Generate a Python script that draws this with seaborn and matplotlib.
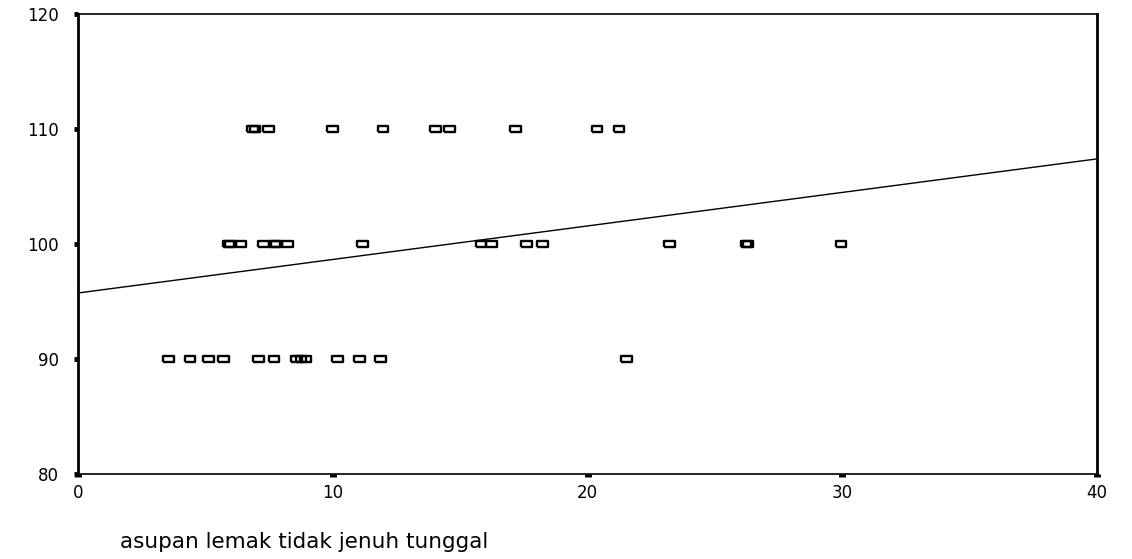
import matplotlib
matplotlib.use("Agg")
import matplotlib.pyplot as plt
import numpy as np
import pandas as pd
import seaborn as sns

# Observations grouped by outcome level
x_at_110 = [6.85, 6.95, 7.47, 10.0, 11.97, 14.03, 14.58, 17.18, 20.37, 21.24]
x_at_100 = [5.9, 6.0, 6.4, 7.27, 7.7, 7.8, 8.23, 11.16, 15.82, 16.24,
            17.61, 18.23, 23.21, 26.22, 26.3, 29.95]
x_at_90 = [3.56, 4.40, 5.13, 5.72, 7.09, 7.69, 8.58, 8.75, 8.94, 10.19,
           11.04, 11.87, 21.54]

# Fitted linear trend (end points over the x range)
fit_x = [0, 40]
fit_y = [95.74, 107.4]

x_ticks = [0, 10, 20, 30, 40]
y_ticks = [80, 90, 100, 110, 120]
x_label = "asupan lemak tidak jenuh tunggal"

df = pd.DataFrame({
    "x": x_at_110 + x_at_100 + x_at_90,
    "y": [110] * len(x_at_110) + [100] * len(x_at_100) + [90] * len(x_at_90),
})
fit = pd.DataFrame({"x": fit_x, "y": fit_y})

sns.set_theme(style="white")
plt.rcParams["font.family"] = ["DejaVu Sans"]

fig = plt.figure(figsize=(11.32, 5.59), dpi=100)
ax = fig.add_axes([78 / 1132, 1 - 474 / 559, (1097 - 78) / 1132, (474 - 14) / 559])

# open rectangular marker, wider than tall
rect = [(-1, -0.58), (1, -0.58), (1, 0.58), (-1, 0.58), (-1, -0.58)]
sns.scatterplot(data=df, x="x", y="y", ax=ax, marker=rect, s=60,
                facecolors="none", edgecolor="black", linewidth=1.7)
sns.lineplot(data=fit, x="x", y="y", ax=ax, color="black", linewidth=1.0)

ax.set_xlim(0, 40)
ax.set_ylim(80, 120)
ax.set_xticks(x_ticks)
ax.set_yticks(y_ticks)
ax.set_ylabel("")
ax.set_xlabel(x_label, fontsize=15.5, ha="left", va="baseline", color="black")
ax.xaxis.set_label_coords((120 - 78) / (1097 - 78), (474 - 548) / 460)

ax.tick_params(axis="y", direction="out", length=3, width=3.5, pad=11,
               labelsize=12, colors="black", left=True)
ax.tick_params(axis="x", direction="out", length=2.2, width=5, pad=5,
               labelsize=12, colors="black", bottom=True)

for side in ["left", "right"]:
    ax.spines[side].set_linewidth(2.0)
for side in ["top", "bottom"]:
    ax.spines[side].set_linewidth(1.2)
for sp in ax.spines.values():
    sp.set_color("black")
    sp.set_visible(True)

fig.savefig("out.png", dpi=100, facecolor="white")
